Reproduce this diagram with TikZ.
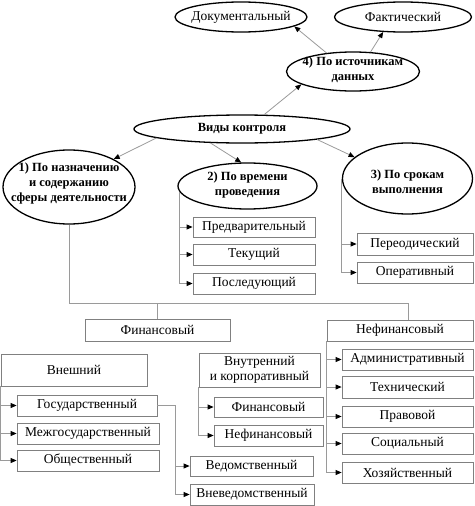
\documentclass[tikz,border=0pt]{standalone}
\usepackage{fontspec}
\setmainfont{Liberation Serif}
\usetikzlibrary{shapes.geometric,arrows.meta}
\definecolor{boxgray}{HTML}{808080}
\definecolor{linegray}{HTML}{9A9A9A}
\begin{document}
\begin{tikzpicture}[x=1pt,y=-1pt,
  ell/.style={draw=black, line width=1.3pt, ellipse, inner sep=0pt},
  etxt/.style={font=\fontsize{12.5}{15}\selectfont\bfseries, align=center, inner sep=0pt},
  box/.style={draw=boxgray, line width=0.8pt, rectangle, inner sep=0pt, font=\fontsize{13.5}{15}\selectfont, align=center},
  conn/.style={draw=linegray, line width=0.8pt},
  arr/.style={conn, -{Triangle[length=6pt,width=5pt,color=black]}},
]
\useasboundingbox (0,0) rectangle (474,506);

% ellipses
\node[ell, minimum width=132pt, minimum height=30pt] (dok) at (241,17) {};
\node[etxt, font=\fontsize{13.5}{15}\selectfont] (dokt) at (dok) {Документальный};
\node[ell, minimum width=137pt, minimum height=30pt] (fakt) at (403,17) {};
\node[etxt, font=\fontsize{13.5}{15}\selectfont] (faktt) at (fakt) {Фактический};
\node[ell, minimum width=133pt, minimum height=39pt] (n4) at (353,71.5) {};
\node[etxt] (n4t) at (353,69.5) {4) По источникам\\данных};
\node[ell, minimum width=216pt, minimum height=28pt] (vk) at (242,129) {};
\node[etxt] (vkt) at (vk) {Виды контроля};
\node[ell, minimum width=132pt, minimum height=74pt] (n1) at (69,187) {};
\node[etxt] (n1t) at (69,183) {1) По назначению\\и содержанию\\сферы деятельности};
\node[ell, minimum width=139pt, minimum height=46pt] (n2) at (247.5,186) {};
\node[etxt] (n2t) at (247.5,185) {2) По времени\\проведения};
\node[ell, minimum width=130pt, minimum height=71pt] (n3) at (407.5,178.5) {};
\node[etxt] (n3t) at (407.5,182) {3) По срокам\\выполнения};

% boxes
\node[box, minimum width=122pt, minimum height=20pt] (pred) at (254,227) {Предварительный};
\node[box, minimum width=122pt, minimum height=21pt] (tek) at (254,254.5) {Текущий};
\node[box, minimum width=122pt, minimum height=21pt] (posl) at (254,283.5) {Последующий};
\node[box, minimum width=116pt, minimum height=22pt] (per) at (415,244) {Переодический};
\node[box, minimum width=116pt, minimum height=21pt] (oper) at (415,272.5) {Оперативный};
\node[box, minimum width=145pt, minimum height=22pt] (fin) at (157.5,330) {Финансовый};
\node[box, minimum width=146pt, minimum height=21pt] (nefin) at (400,330.5) {Нефинансовый};
\node[box, minimum width=146pt, minimum height=32pt] (vnesh) at (74,370) {Внешний};
\node[box, minimum width=140pt, minimum height=21pt] (gos) at (87,405.5) {Государственный};
\node[box, minimum width=142pt, minimum height=21pt] (mezh) at (88,433.5) {Межгосударственный};
\node[box, minimum width=142pt, minimum height=21pt] (obsh) at (88,460.5) {Общественный};
\node[box, minimum width=123pt, minimum height=20pt] (ved) at (251.5,466) {Ведомственный};
\node[box, minimum width=124pt, minimum height=21pt] (vneved) at (252,494.5) {Вневедомственный};
\node[box, minimum width=121pt, minimum height=34pt] (vnut) at (259.5,370) {Внутренний\\и корпоративный};
\node[box, minimum width=109pt, minimum height=20pt] (fin2) at (268.5,407) {Финансовый};
\node[box, minimum width=109pt, minimum height=21pt] (nefin2) at (268.5,435.5) {Нефинансовый};
\node[box, minimum width=131pt, minimum height=21pt] (adm) at (407.5,359.5) {Административный};
\node[box, minimum width=131pt, minimum height=22pt] (tech) at (407.5,387) {Технический};
\node[box, minimum width=131pt, minimum height=21pt] (prav) at (407.5,416.5) {Правовой};
\node[box, minimum width=131pt, minimum height=21pt] (soc) at (407.5,443.5) {Социальный};
\node[box, minimum width=131pt, minimum height=21pt] (hoz) at (407.5,472.5) {Хозяйственный};

% arrows between ellipses
\draw[arr] (vk.186) -- (n1.32);
\draw[arr] (vk.204) -- (n2.105);
\draw[arr] (vk.352) -- (n3.158);
\draw[arr] (vk.33) -- (n4.194);
\draw[arr] (n4.145) -- (dok.-10);
\draw[arr] (n4.48) -- (fakt.217);

% tree from 1)
\coordinate (bus) at (71,303);
\coordinate (nfT) at ([xshift=8pt]nefin.north);
\draw[conn] (n1.south) |- (nfT |- bus) -- (nfT);
\draw[conn] (fin.north) -- (fin.north |- bus);

% branches
\foreach \t in {pred,tek,posl} \draw[arr] (n2.185) |- (\t.west);
\foreach \t in {per,oper} \draw[arr] (n3.west) |- (\t.west);
\foreach \t in {gos,mezh,obsh} \draw[arr] (vnesh.south west) |- (\t.west);
\foreach \t in {fin2,nefin2} \draw[arr] (vnut.south west) |- (\t.west);
\foreach \t in {adm,tech,prav,soc,hoz} \draw[arr] (nefin.south west) |- (\t.west);
\coordinate (gosJ) at ([xshift=18pt]gos.east);
\foreach \t in {ved,vneved} \draw[arr] (gos.east) -- (gosJ) |- (\t.west);
\end{tikzpicture}
\end{document}
